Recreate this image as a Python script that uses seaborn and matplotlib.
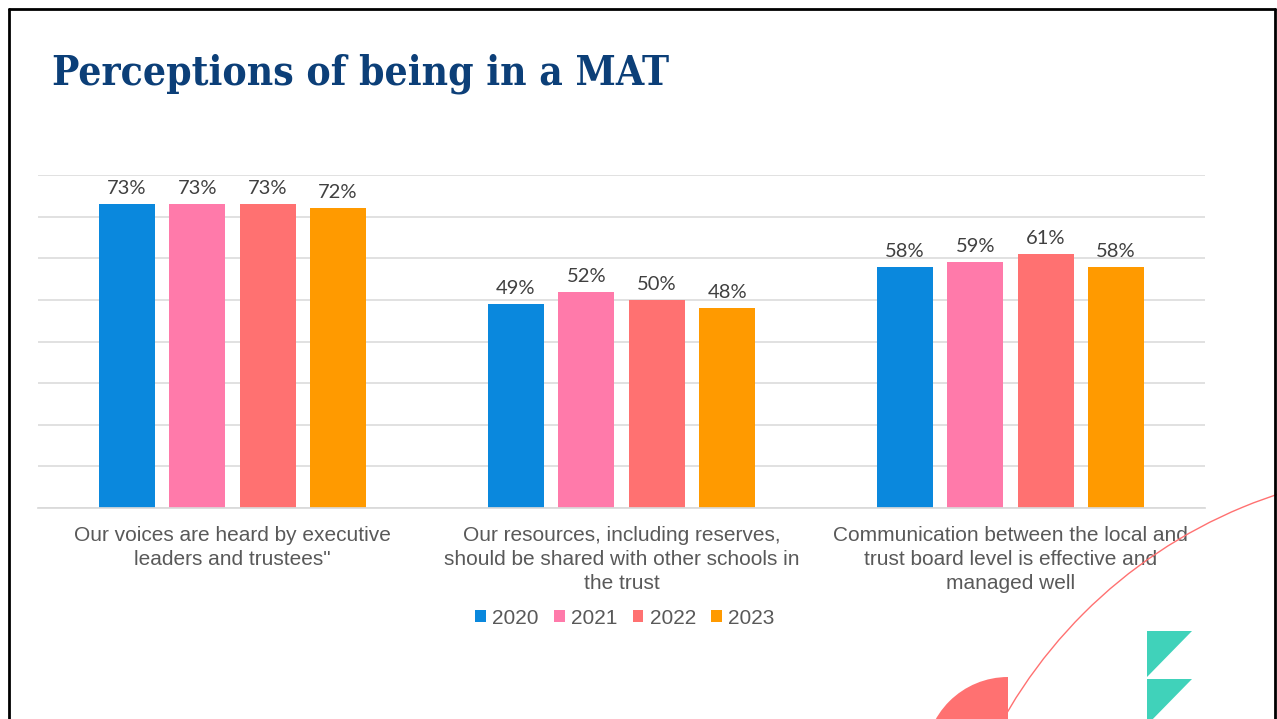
import matplotlib
matplotlib.use("Agg")
import matplotlib.pyplot as plt
import seaborn as sns
import pandas as pd
from matplotlib.patches import Wedge, Polygon, Arc

categories = [
    "Our voices are heard by executive\nleaders and trustees\"",
    "Our resources, including reserves,\nshould be shared with other schools in\nthe trust",
    "Communication between the local and\ntrust board level is effective and\nmanaged well",
]
years = ["2020", "2021", "2022", "2023"]
values_2020 = [73, 49, 58]
values_2021 = [73, 52, 59]
values_2022 = [73, 50, 61]
values_2023 = [72, 48, 58]
colors = ["#0A88DD", "#FF7AAA", "#FF7171", "#FF9A00"]

rows = []
for yr, vals in zip(years, [values_2020, values_2021, values_2022, values_2023]):
    for c, v in zip(categories, vals):
        rows.append({"category": c, "year": yr, "value": v})
df = pd.DataFrame(rows)

sns.set_theme(style="white")
plt.rcParams["font.family"] = ["Liberation Sans", "DejaVu Sans"]

W, H = 1277, 719
fig = plt.figure(figsize=(W / 100, H / 100), dpi=100)
fig.patch.set_facecolor("white")

ax = fig.add_axes([38 / W, 1 - 508 / H, (1205 - 38) / W, (508 - 175) / H])
sns.barplot(data=df, x="category", y="value", hue="year", palette=colors,
            width=0.724, gap=0.2, ax=ax, saturation=1, linewidth=0,
            order=categories, hue_order=years)

ax.set_xlim(-0.5, 2.5)
ax.set_ylim(0, 80)
ax.set_yticks(range(0, 81, 10))
ax.yaxis.grid(True, color="#D9D9D9", linewidth=1.1)
ax.set_axisbelow(True)
ax.tick_params(axis="y", left=False, labelleft=False)
ax.tick_params(axis="x", length=0, pad=13, labelsize=15, labelcolor="#595959")
for lbl in ax.get_xticklabels():
    lbl.set_linespacing(1.33)
for s in ["top", "right", "left"]:
    ax.spines[s].set_visible(False)
ax.spines["bottom"].set_color("#D9D9D9")
ax.set_xlabel("")
ax.set_ylabel("")

for cont in ax.containers:
    ax.bar_label(cont, labels=[f"{int(v)}%" for v in cont.datavalues],
                 padding=5, fontsize=14.5, color="#404040", family=["Lato", "DejaVu Sans"])

handles, labels = ax.get_legend_handles_labels()
ax.legend(handles, labels, loc="center", bbox_to_anchor=(625 / W, 1 - 618 / H),
          bbox_transform=fig.transFigure, ncol=4, frameon=False,
          fontsize=15, handlelength=0.5, handleheight=0.5, handletextpad=0.3,
          columnspacing=0.75, labelcolor="#595959")

# title
fig.text(52 / W, 1 - 85 / H, "Perceptions of being in a MAT", fontsize=29.2,
         fontweight="bold", fontstretch="condensed", color="#0C3F78",
         va="baseline", ha="left", family=["DejaVu Serif", "Liberation Serif"])

# decoration overlay
deco = fig.add_axes([0, 0, 1, 1], zorder=5)
deco.set_xlim(0, W)
deco.set_ylim(H, 0)
deco.axis("off")
deco.patch.set_alpha(0)
deco.plot([9, 9], [9, H], color="black", lw=2)
deco.plot([9, 1275], [9, 9], color="black", lw=2)
deco.plot([1275, 1275], [9, H], color="black", lw=2)
deco.add_patch(Arc((1430, 960), 980, 980, theta1=0, theta2=360, color="#FF7171", lw=1))
deco.add_patch(Wedge((1008, 760), 83, 180, 270, facecolor="#FF7171", edgecolor="none"))
deco.add_patch(Polygon([(1147, 631), (1192, 631), (1147, 677)], closed=True,
                       facecolor="#40D2BA", edgecolor="none"))
deco.add_patch(Polygon([(1147, 679), (1192, 679), (1147, 725)], closed=True,
                       facecolor="#40D2BA", edgecolor="none"))

fig.savefig("out.png", dpi=100)
